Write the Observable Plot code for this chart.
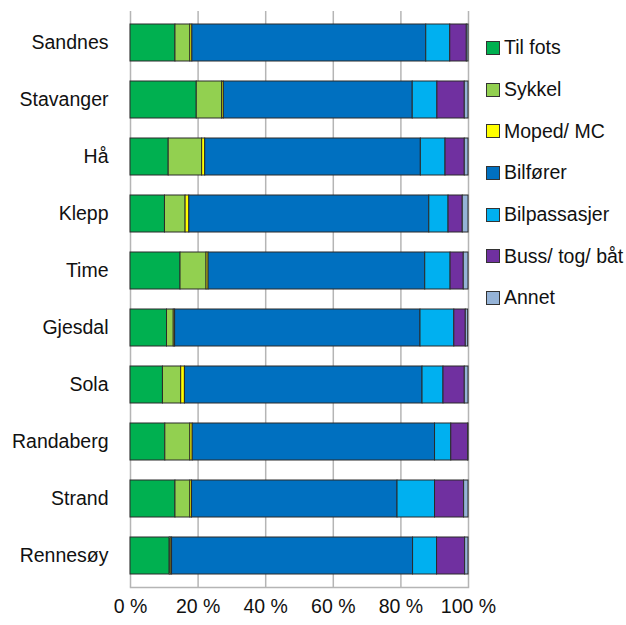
<!DOCTYPE html>
<html>
<head>
<meta charset="utf-8">
<script src="https://cdn.jsdelivr.net/npm/d3@7"></script>
<script src="https://cdn.jsdelivr.net/npm/@observablehq/plot@0.6"></script>
<style>
  body { margin: 0; background: #fff; }
  #wrap { position: relative; width: 626px; height: 625px; font-family: "Liberation Sans", Arial, sans-serif; }
  #legend { position: absolute; left: 486px; top: 27px; }
  .li { display: flex; align-items: center; height: 41.7px; font-size: 19.5px; color: #111; }
  .sw { width: 12px; height: 12px; border: 1px solid #333; margin-right: 4px; }
</style>
</head>
<body>
<div id="wrap"><div id="legend"></div></div>
<script>
const categories = ["Sandnes","Stavanger","Hå","Klepp","Time","Gjesdal","Sola","Randaberg","Strand","Rennesøy"];
const series = ["Til fots","Sykkel","Moped/ MC","Bilfører","Bilpassasjer","Buss/ tog/ båt","Annet"];
const colors = ["#00B050","#92D050","#FFFF00","#0070C0","#00B0F0","#7030A0","#95B3D7"];
const tilFots     = [13.3, 19.6, 11.3, 10.2, 14.8, 10.8,  9.6, 10.3, 13.3, 11.6];
const sykkel      = [ 4.4,  7.5,  9.9,  6.1,  7.7,  2.0,  5.4,  7.4,  4.4,  0.3];
const moped       = [ 0.6,  0.5,  0.9,  1.1,  0.6,  0.4,  1.1,  0.7,  0.5,  0.4];
const bilforer    = [69.2, 55.9, 63.8, 71.0, 64.1, 72.6, 70.3, 71.7, 60.8, 71.3];
const bilpass     = [ 7.1,  7.3,  7.3,  5.7,  7.5, 10.0,  6.2,  4.8, 11.1,  7.1];
const buss        = [ 4.9,  8.1,  5.7,  4.2,  3.9,  3.4,  6.3,  5.0,  8.6,  8.3];
const annet       = [ 0.5,  1.1,  1.1,  1.7,  1.4,  0.7,  1.1,  0.1,  1.3,  1.0];
const xTicks = [0, 20, 40, 60, 80, 100];

const seriesValues = [tilFots, sykkel, moped, bilforer, bilpass, buss, annet];
const data = [];
categories.forEach((c, i) => {
  series.forEach((s, j) => data.push({kommune: c, mode: s, value: seriesValues[j][i]}));
});

const chart = Plot.plot({
  width: 626,
  height: 625,
  marginLeft: 130,
  marginRight: 158,
  marginTop: 11,
  marginBottom: 38,
  style: {fontFamily: "'Liberation Sans', Arial, sans-serif", fontSize: "19px", color: "#111", background: "#fff"},
  x: {domain: [0, 100], ticks: xTicks, tickFormat: d => d + " %", tickSize: 0, tickPadding: 12, label: null},
  y: {domain: categories, paddingInner: 0.35, paddingOuter: 0.17, tickSize: 0, tickPadding: 22, label: null},
  color: {domain: series, range: colors},
  marks: [
    Plot.gridX(xTicks, {stroke: "#b5b5b5", strokeOpacity: 1, strokeWidth: 1.5}),
    Plot.frame({anchor: "bottom", stroke: "#b5b5b5", strokeWidth: 1.5}),
    Plot.barX(data, Plot.stackX({x: "value", y: "kommune", fill: "mode", order: series, stroke: "#2a2a2a", strokeWidth: 1})),
    Plot.axisX({ticks: xTicks, tickFormat: d => d + " %", tickSize: 0, tickPadding: 12, fontSize: 19.5}),
    Plot.axisY({tickSize: 0, tickPadding: 22, fontSize: 19.5})
  ]
});
document.getElementById("wrap").prepend(chart);

const legend = document.getElementById("legend");
series.forEach((s, j) => {
  const row = document.createElement("div");
  row.className = "li";
  const sw = document.createElement("span");
  sw.className = "sw";
  sw.style.background = colors[j];
  row.appendChild(sw);
  row.appendChild(document.createTextNode(s));
  legend.appendChild(row);
});
</script>
</body>
</html>
